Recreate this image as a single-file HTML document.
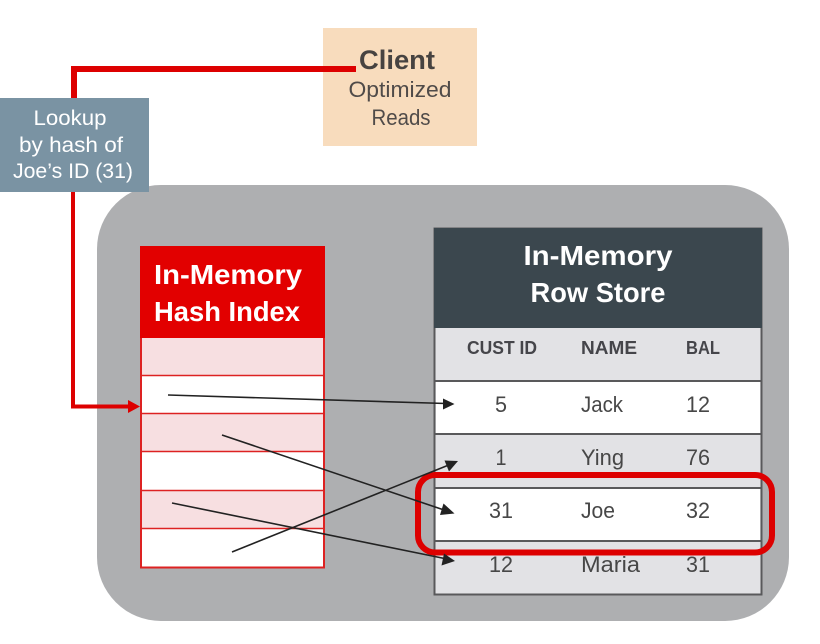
<!DOCTYPE html>
<html>
<head>
<meta charset="utf-8">
<style>
html,body{margin:0;padding:0;background:#fff;width:820px;height:644px;overflow:hidden}
svg{display:block}
text{font-family:"Liberation Sans",sans-serif}
</style>
</head>
<body>
<svg width="820" height="644" viewBox="0 0 820 644" xmlns="http://www.w3.org/2000/svg">
<rect width="820" height="644" fill="#fff"/>
<!-- gray panel -->
<rect x="97" y="185" width="692" height="436" rx="64" ry="64" fill="#aeafb1"/>
<!-- client -->
<rect x="323" y="28" width="154" height="118" fill="#f8dcbd"/>
<!-- red connector -->
<path d="M356 69H74V98" fill="none" stroke="#dd0000" stroke-width="6"/>
<path d="M73 192V406.500H130" fill="none" stroke="#dd0000" stroke-width="4"/>
<polygon points="128,400 140,406.500 128,413" fill="#dd0000"/>
<!-- lookup -->
<rect x="0" y="98" width="149" height="94" fill="#7a93a3"/>
<g fill="#fff" font-size="21" text-anchor="middle">
<text x="70" y="125" textLength="73" lengthAdjust="spacingAndGlyphs">Lookup</text>
<text x="71" y="152" textLength="104" lengthAdjust="spacingAndGlyphs">by hash of</text>
<text x="73" y="178" textLength="120" lengthAdjust="spacingAndGlyphs">Joe’s ID (31)</text>
</g>
<!-- client text -->
<text x="397" y="69" font-size="27" font-weight="bold" fill="#474341" text-anchor="middle" textLength="76" lengthAdjust="spacingAndGlyphs">Client</text>
<g fill="#504b49" font-size="22" text-anchor="middle">
<text x="400" y="97" textLength="103" lengthAdjust="spacingAndGlyphs">Optimized</text>
<text x="401" y="125" textLength="59" lengthAdjust="spacingAndGlyphs">Reads</text>
</g>
<!-- hash index -->
<rect x="141" y="247" width="183" height="320.500" fill="#fff" stroke="#dd2222" stroke-width="2"/>
<rect x="140" y="246" width="185" height="92" fill="#e20000"/>
<g fill="#f7dfe1">
<rect x="142" y="338" width="181" height="37"/>
<rect x="142" y="414" width="181" height="37"/>
<rect x="142" y="491" width="181" height="37"/>
</g>
<g stroke="#dd2222" stroke-width="1.600">
<path d="M141 375.500H324M141 413.500H324M141 451.500H324M141 490.500H324M141 528.500H324"/>
</g>
<g fill="#fff" font-size="28" font-weight="bold">
<text x="154" y="284" textLength="148" lengthAdjust="spacingAndGlyphs">In-Memory</text>
<text x="154" y="321" textLength="146" lengthAdjust="spacingAndGlyphs">Hash Index</text>
</g>
<!-- row store -->
<rect x="434.500" y="228.500" width="327" height="366" fill="#e2e2e5" stroke="#59595b" stroke-width="2"/>
<rect x="434" y="228" width="328" height="100" fill="#3b474e"/>
<rect x="436" y="381" width="324" height="53" fill="#fff"/>
<rect x="436" y="488" width="324" height="53" fill="#fff"/>
<g stroke="#59595b" stroke-width="2">
<path d="M435 381H761M435 434H761M435 488H761M435 541H761"/>
</g>
<g fill="#fff" font-size="28" font-weight="bold" text-anchor="middle">
<text x="598" y="265" textLength="149" lengthAdjust="spacingAndGlyphs">In-Memory</text>
<text x="598" y="302" textLength="135" lengthAdjust="spacingAndGlyphs">Row Store</text>
</g>
<g fill="#45454a" font-size="18" font-weight="bold">
<text x="467" y="354" textLength="70" lengthAdjust="spacingAndGlyphs">CUST ID</text>
<text x="581" y="354" textLength="56" lengthAdjust="spacingAndGlyphs">NAME</text>
<text x="686" y="354" textLength="34" lengthAdjust="spacingAndGlyphs">BAL</text>
</g>
<g fill="#474747" font-size="22">
<text x="501" y="412" text-anchor="middle" textLength="12" lengthAdjust="spacingAndGlyphs">5</text>
<text x="581" y="412" textLength="42" lengthAdjust="spacingAndGlyphs">Jack</text>
<text x="686" y="412" textLength="24" lengthAdjust="spacingAndGlyphs">12</text>
<text x="501" y="465" text-anchor="middle" textLength="11" lengthAdjust="spacingAndGlyphs">1</text>
<text x="581" y="465" textLength="43" lengthAdjust="spacingAndGlyphs">Ying</text>
<text x="686" y="465" textLength="24" lengthAdjust="spacingAndGlyphs">76</text>
<text x="501" y="518" text-anchor="middle" textLength="24" lengthAdjust="spacingAndGlyphs">31</text>
<text x="581" y="518" textLength="34" lengthAdjust="spacingAndGlyphs">Joe</text>
<text x="686" y="518" textLength="24" lengthAdjust="spacingAndGlyphs">32</text>
<text x="501" y="572" text-anchor="middle" textLength="24" lengthAdjust="spacingAndGlyphs">12</text>
<text x="581" y="572" textLength="59" lengthAdjust="spacingAndGlyphs">Maria</text>
<text x="686" y="572" textLength="24" lengthAdjust="spacingAndGlyphs">31</text>
</g>
<!-- highlight -->
<rect x="418" y="475" width="354" height="77.500" rx="17" ry="17" fill="none" stroke="#dd0000" stroke-width="6"/>
<!-- arrows -->
<g stroke="#222" stroke-width="1.600" fill="none">
<path d="M168 395L446 403.500"/>
<path d="M222 435L447 511"/>
<path d="M172 503L447 559"/>
<path d="M232 552L450 464.500"/>
</g>
<g fill="#222">
<polygon points="454.500,404 443,398.500 443,409.500"/>
<polygon points="454.500,513.500 443.500,503.500 440,515"/>
<polygon points="455,561 444,553.500 441.500,565.500"/>
<polygon points="458,461 444.500,460.500 449,471.500"/>
</g>
</svg>
</body>
</html>
